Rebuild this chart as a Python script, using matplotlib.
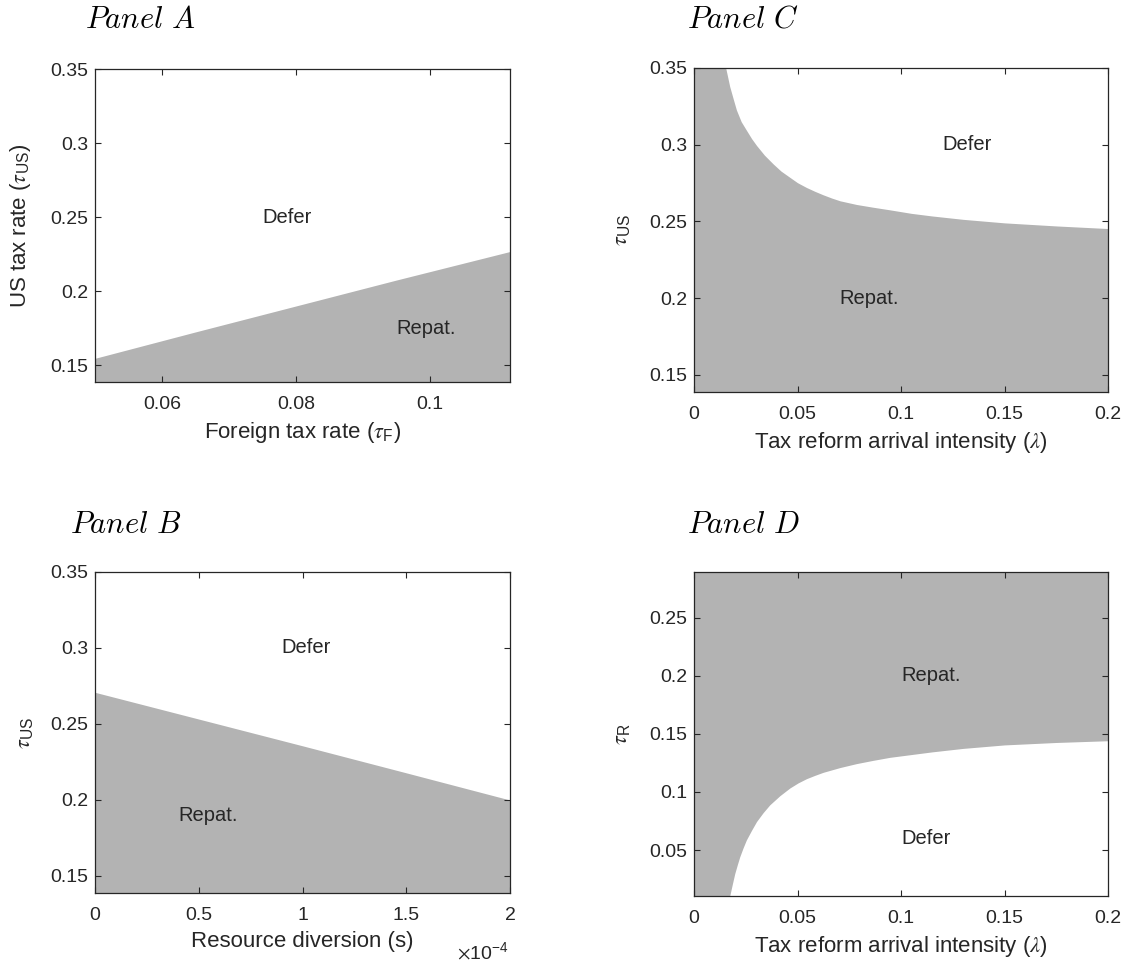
import numpy as np
import matplotlib
matplotlib.use("Agg")
import matplotlib.pyplot as plt
from matplotlib.ticker import FuncFormatter

plt.rcParams["font.family"] = ["Liberation Sans", "DejaVu Sans"]
plt.rcParams["mathtext.fontset"] = "stix"

GRAY = "#b3b3b3"
INK = "#262626"

# ---- data ---------------------------------------------------------------
# Panel A: boundary US tax rate vs foreign tax rate (repatriate below)
tf_a = [0.05, 0.065, 0.08, 0.095, 0.112]
tus_a = [0.1547, 0.1725, 0.1900, 0.2075, 0.2268]

# Panel B: boundary US tax rate vs resource diversion s (repatriate below)
s_b = [0.0, 0.5e-4, 1.0e-4, 1.5e-4, 2.0e-4]
tus_b = [0.2708, 0.2532, 0.2356, 0.2178, 0.1999]

# Panel C: boundary US tax rate vs reform intensity (repatriate below)
lam_c = [0.01533, 0.01726, 0.0190, 0.0205, 0.0228, 0.02533, 0.0278, 0.0302,
         0.0340, 0.0382, 0.0420, 0.0463, 0.0500, 0.0543, 0.0585, 0.0624,
         0.0665, 0.0705, 0.0745, 0.0785, 0.0865, 0.0946, 0.1050, 0.1150,
         0.1300, 0.1500, 0.1750, 0.2000]
tus_c = [0.3500, 0.3379, 0.3296, 0.3226, 0.3150, 0.3094, 0.3040, 0.2995,
         0.2932, 0.2875, 0.2828, 0.2787, 0.2752, 0.2721, 0.2695, 0.2673,
         0.2652, 0.2634, 0.2622, 0.2610, 0.2592, 0.2575, 0.2552, 0.2535,
         0.2513, 0.2490, 0.2470, 0.2453]

# Panel D: boundary repatriation tax rate vs reform intensity (repatriate above)
lam_d = [0.01726, 0.0185, 0.0197, 0.0209, 0.0221, 0.0237, 0.0253, 0.0278,
         0.0302, 0.0334, 0.0366, 0.0415, 0.0463, 0.0503, 0.0543, 0.0584,
         0.0624, 0.0705, 0.0785, 0.0865, 0.0946, 0.1050, 0.1150, 0.1300,
         0.1500, 0.1750, 0.2000]
tr_d = [0.0105, 0.0205, 0.0298, 0.0372, 0.0442, 0.0518, 0.0587, 0.0670,
        0.0745, 0.0822, 0.0889, 0.0968, 0.1034, 0.1078, 0.1114, 0.1143,
        0.1169, 0.1210, 0.1244, 0.1272, 0.1298, 0.1322, 0.1345, 0.1375,
        0.1405, 0.1426, 0.1441]

YLIM_US = (0.1387, 0.35)
YLIM_R = (0.0104, 0.2894)

W, H = 1133, 967
fig = plt.figure(figsize=(W / 100, H / 100), dpi=100)
fig.patch.set_facecolor("white")

TICK_FS = 14
LABEL_FS = 16
NOTE_FS = 14.5


def px_axes(l, t, r, b):
    return fig.add_axes([l / W, 1 - b / H, (r - l) / W, (b - t) / H])


def gfmt(scale=1.0):
    return FuncFormatter(lambda v, p: "%g" % round(v / scale, 6))


def style(ax, ylab_x):
    for sp in ax.spines.values():
        sp.set_color(INK)
        sp.set_linewidth(0.9)
    ax.tick_params(direction="in", length=4, width=0.8, color=INK,
                   top=True, right=True, labelsize=TICK_FS, labelcolor=INK)
    ax.tick_params(axis="x", pad=10)
    ax.tick_params(axis="y", pad=5)
    ax.yaxis.set_major_formatter(gfmt())
    ax.yaxis.set_label_coords(ylab_x, 0.5)


def panel_title(x, y, s):
    fig.text(x / W, 1 - y / H, s, fontsize=22, math_fontfamily="cm",
             ha="left", va="center", color="black")


def note(ax, x, y, s):
    ax.text(x, y, s, fontsize=NOTE_FS, color=INK, ha="left", va="center")


# ---- Panel A -------------------------------------------------------------
ax = px_axes(95, 69, 510, 382)
ax.fill_between(tf_a, YLIM_US[0], tus_a, color=GRAY, lw=0)
ax.set_xlim(0.05, 0.112)
ax.set_ylim(*YLIM_US)
ax.set_xticks([0.06, 0.08, 0.1])
ax.set_yticks([0.15, 0.2, 0.25, 0.3, 0.35])
ax.xaxis.set_major_formatter(gfmt())
style(ax, -0.15)
ax.set_xlabel(r"Foreign tax rate ($\tau_{\mathregular{F}}$)", fontsize=LABEL_FS, color=INK, labelpad=5)
ax.set_ylabel(r"US tax rate ($\tau_{\mathregular{US}}$)", fontsize=LABEL_FS, color=INK)
note(ax, 0.075, 0.25, "Defer")
note(ax, 0.095, 0.175, "Repat.")
panel_title(85, 20, r"$Panel\ A$")

# ---- Panel B -------------------------------------------------------------
ax = px_axes(95, 572, 510, 893)
ax.fill_between(s_b, YLIM_US[0], tus_b, color=GRAY, lw=0)
ax.set_xlim(0, 2e-4)
ax.set_ylim(*YLIM_US)
ax.set_xticks([0, 0.5e-4, 1e-4, 1.5e-4, 2e-4])
ax.set_yticks([0.15, 0.2, 0.25, 0.3, 0.35])
ax.xaxis.set_major_formatter(gfmt(1e-4))
style(ax, -0.145)
ax.set_xlabel("Resource diversion (s)", fontsize=LABEL_FS, color=INK, labelpad=5)
ax.set_ylabel(r"$\tau_{\mathregular{US}}$", fontsize=LABEL_FS, color=INK)
note(ax, 0.9e-4, 0.30, "Defer")
note(ax, 0.4e-4, 0.19, "Repat.")
fig.text(457 / W, 1 - 952 / H, r"$\times\mathregular{10^{-4}}$", fontsize=TICK_FS,
         color=INK, ha="left", va="center")
panel_title(70, 525, r"$Panel\ B$")

# ---- Panel C -------------------------------------------------------------
ax = px_axes(694, 68, 1108, 392)
ax.fill_between(np.r_[0.0, lam_c], YLIM_US[0], np.r_[YLIM_US[1], tus_c],
                color=GRAY, lw=0)
ax.set_xlim(0, 0.2)
ax.set_ylim(*YLIM_US)
ax.set_xticks([0, 0.05, 0.1, 0.15, 0.2])
ax.set_yticks([0.15, 0.2, 0.25, 0.3, 0.35])
ax.xaxis.set_major_formatter(gfmt())
style(ax, -0.15)
ax.set_xlabel(r"Tax reform arrival intensity ($\lambda$)", fontsize=LABEL_FS, color=INK, labelpad=5)
ax.set_ylabel(r"$\tau_{\mathregular{US}}$", fontsize=LABEL_FS, color=INK)
note(ax, 0.12, 0.30, "Defer")
note(ax, 0.07, 0.20, "Repat.")
panel_title(687, 20, r"$Panel\ C$")

# ---- Panel D -------------------------------------------------------------
ax = px_axes(694, 572, 1108, 896)
ax.fill_between(np.r_[0.0, lam_d], np.r_[YLIM_R[0], tr_d], YLIM_R[1],
                color=GRAY, lw=0)
ax.set_xlim(0, 0.2)
ax.set_ylim(*YLIM_R)
ax.set_xticks([0, 0.05, 0.1, 0.15, 0.2])
ax.set_yticks([0.05, 0.1, 0.15, 0.2, 0.25])
ax.xaxis.set_major_formatter(gfmt())
style(ax, -0.15)
ax.set_xlabel(r"Tax reform arrival intensity ($\lambda$)", fontsize=LABEL_FS, color=INK, labelpad=5)
ax.set_ylabel(r"$\tau_{\mathregular{R}}$", fontsize=LABEL_FS, color=INK)
note(ax, 0.10, 0.20, "Repat.")
note(ax, 0.10, 0.06, "Defer")
panel_title(687, 525, r"$Panel\ D$")

fig.savefig("out.png", dpi=100, facecolor="white")
